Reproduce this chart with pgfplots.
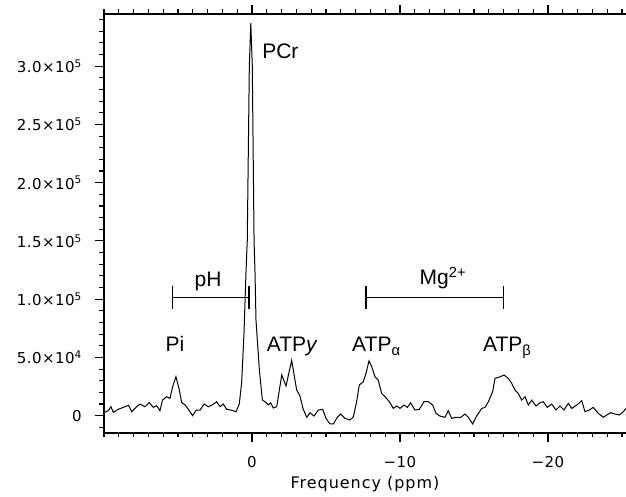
\documentclass[border=0pt]{standalone}
\usepackage{fontspec}
\setmainfont{DejaVu Sans}[LetterSpace=3]
\newfontfamily\xlabfont{DejaVu Sans}[LetterSpace=6]
\newfontfamily\annfont{Liberation Sans}
\usepackage{pgfplots}
\pgfplotsset{compat=1.18}

\pgfplotstableread{
x y
10.0 2600
9.71 4300
9.53 7700
9.37 2900
9.03 5500
8.69 7200
8.34 8900
8.13 3400
7.79 7700
7.57 10000
7.23 7700
6.94 11200
6.67 7200
6.44 8600
6.22 4300
6.04 13500
5.76 16300
5.54 14900
5.36 24900
5.14 33500
4.91 22100
4.75 11200
4.53 9400
4.30 5500
4.01 0
3.78 4700
3.51 4700
3.24 10000
2.95 7700
2.66 9400
2.39 12000
2.16 7700
1.94 10000
1.71 5500
1.37 4700
1.08 3400
0.86 10000
0.70 28000
0.54 71000
0.40 125000
0.32 150000
0.18 300000
0.08 337000
-0.02 300000
-0.14 150000
-0.20 125000
-0.27 82000
-0.50 39000
-0.70 13500
-0.88 12000
-1.10 9200
-1.26 11000
-1.44 6600
-1.67 7700
-2.01 35000
-2.30 25500
-2.68 47500
-3.02 22000
-3.24 17000
-3.45 6000
-3.70 -1400
-3.92 2500
-4.19 -300
-4.48 4900
-4.78 5400
-5.00 -2300
-5.27 -7100
-5.50 -7100
-5.76 -1400
-5.99 1400
-6.28 -2300
-6.62 -3700
-6.85 -900
-7.07 12000
-7.25 26300
-7.52 29100
-7.70 36300
-7.91 47100
-8.09 42000
-8.31 33400
-8.53 30600
-8.76 19100
-8.99 16300
-9.28 12000
-9.55 6300
-9.78 8300
-10.0 6300
-10.27 9100
-10.5 7100
-10.72 11100
-11.01 4900
-11.3 5400
-11.62 12000
-11.91 12000
-12.21 9100
-12.43 2000
-12.70 -300
-13.04 -1400
-13.26 4300
-13.49 -2300
-13.78 -1400
-14.1 -1400
-14.39 1400
-14.62 -1400
-14.91 -7100
-15.18 -300
-15.52 6300
-15.74 7100
-15.97 12000
-16.26 20600
-16.42 32000
-16.76 33400
-17.03 34900
-17.32 32000
-17.55 27700
-17.77 22000
-17.99 19100
-18.22 13400
-18.45 16300
-18.67 9100
-18.9 13400
-19.19 8300
-19.46 11100
-19.68 12000
-19.95 7100
-20.25 10000
-20.54 4900
-20.81 8300
-21.08 4900
-21.37 10600
-21.6 6300
-21.94 9100
-22.28 12900
-22.5 3400
-22.79 4900
-23.06 7100
-23.4 2000
-23.74 -1400
-23.97 600
-24.24 2600
-24.53 1400
-24.82 600
-25.09 3400
-25.27 6300
}\spectrum

\begin{document}
\begin{tikzpicture}
\begin{axis}[
  scale only axis,
  width=522pt, height=419pt,
  x dir=reverse,
  xmin=-25.27, xmax=10,
  ymin=-14850, ymax=344800,
  axis x line=box,
  axis y line=left,
  axis line style={-, line width=1.3pt},
  tick style={line width=1.1pt, black},
  tick align=outside,
  major tick length=9pt,
  minor tick length=4.5pt,
  xtick={-20,-10,0},
  xticklabels={−20,−10,0},
  minor xtick={-25,-24,...,10},
  ytick={0,50000,100000,150000,200000,250000,300000},
  yticklabels={0,
    5.0×10\textsuperscript{4},
    1.0×10\textsuperscript{5},
    1.5×10\textsuperscript{5},
    2.0×10\textsuperscript{5},
    2.5×10\textsuperscript{5},
    3.0×10\textsuperscript{5}},
  minor ytick={-10000,0,...,340000},
  scaled y ticks=false,
  every tick label/.append style={font=\fontsize{15}{17}\selectfont},
  every y tick label/.append style={anchor=east, inner sep=0pt, xshift=-13pt},
  every x tick label/.append style={anchor=north, inner sep=0pt, yshift=-14.5pt},
  xlabel={Frequency (ppm)},
  xlabel style={font=\xlabfont\fontsize{16}{18}\selectfont,
    at={(axis description cs:0.5,0)}, anchor=north, inner sep=0pt, yshift=-43pt},
  clip=false,
]
\addplot[black, line width=1pt] table[x=x, y=y] {\spectrum};

\coordinate (sw) at (rel axis cs:0,0);
\coordinate (ne) at (rel axis cs:1,1);

\draw[line width=1.5pt] (axis cs:5.36,101500) -- (axis cs:0.2,101500);
\draw[line width=1.5pt] (axis cs:5.36,92000) -- (axis cs:5.36,111000);
\draw[line width=1.5pt] (axis cs:0.2,92000) -- (axis cs:0.2,111000);
\draw[line width=1.5pt] (axis cs:-7.7,101500) -- (axis cs:-17.0,101500);
\draw[line width=1.5pt] (axis cs:-7.7,92000) -- (axis cs:-7.7,111000);
\draw[line width=1.5pt] (axis cs:-17.0,92000) -- (axis cs:-17.0,111000);

\node[font=\annfont\fontsize{21}{23}\selectfont, anchor=base west, inner sep=0pt] at (axis cs:-0.68,307000) {PCr};
\node[font=\annfont\fontsize{21}{23}\selectfont, anchor=base, inner sep=0pt] at (axis cs:2.97,111300) {pH};
\node[font=\annfont\fontsize{21}{23}\selectfont, anchor=base, inner sep=0pt] at (axis cs:-12.9,112200) {Mg\textsuperscript{2+}};
\node[font=\annfont\fontsize{21}{23}\selectfont, anchor=base, inner sep=0pt] at (axis cs:5.2,55500) {Pi};
\node[font=\annfont\fontsize{21}{23}\selectfont, anchor=base west, inner sep=0pt] at (axis cs:-0.99,54700) {ATP\textit{y}};
\node[font=\annfont\fontsize{21}{23}\selectfont, anchor=base west, inner sep=0pt] at (axis cs:-6.76,54700) {ATP\textsubscript{α}};
\node[font=\annfont\fontsize{21}{23}\selectfont, anchor=base west, inner sep=0pt] at (axis cs:-15.6,54700) {ATP\textsubscript{β}};
\end{axis}
\pgfresetboundingbox
\path ([xshift=-104pt,yshift=-64pt]sw) rectangle ([yshift=14pt]ne);
\end{tikzpicture}
\end{document}
